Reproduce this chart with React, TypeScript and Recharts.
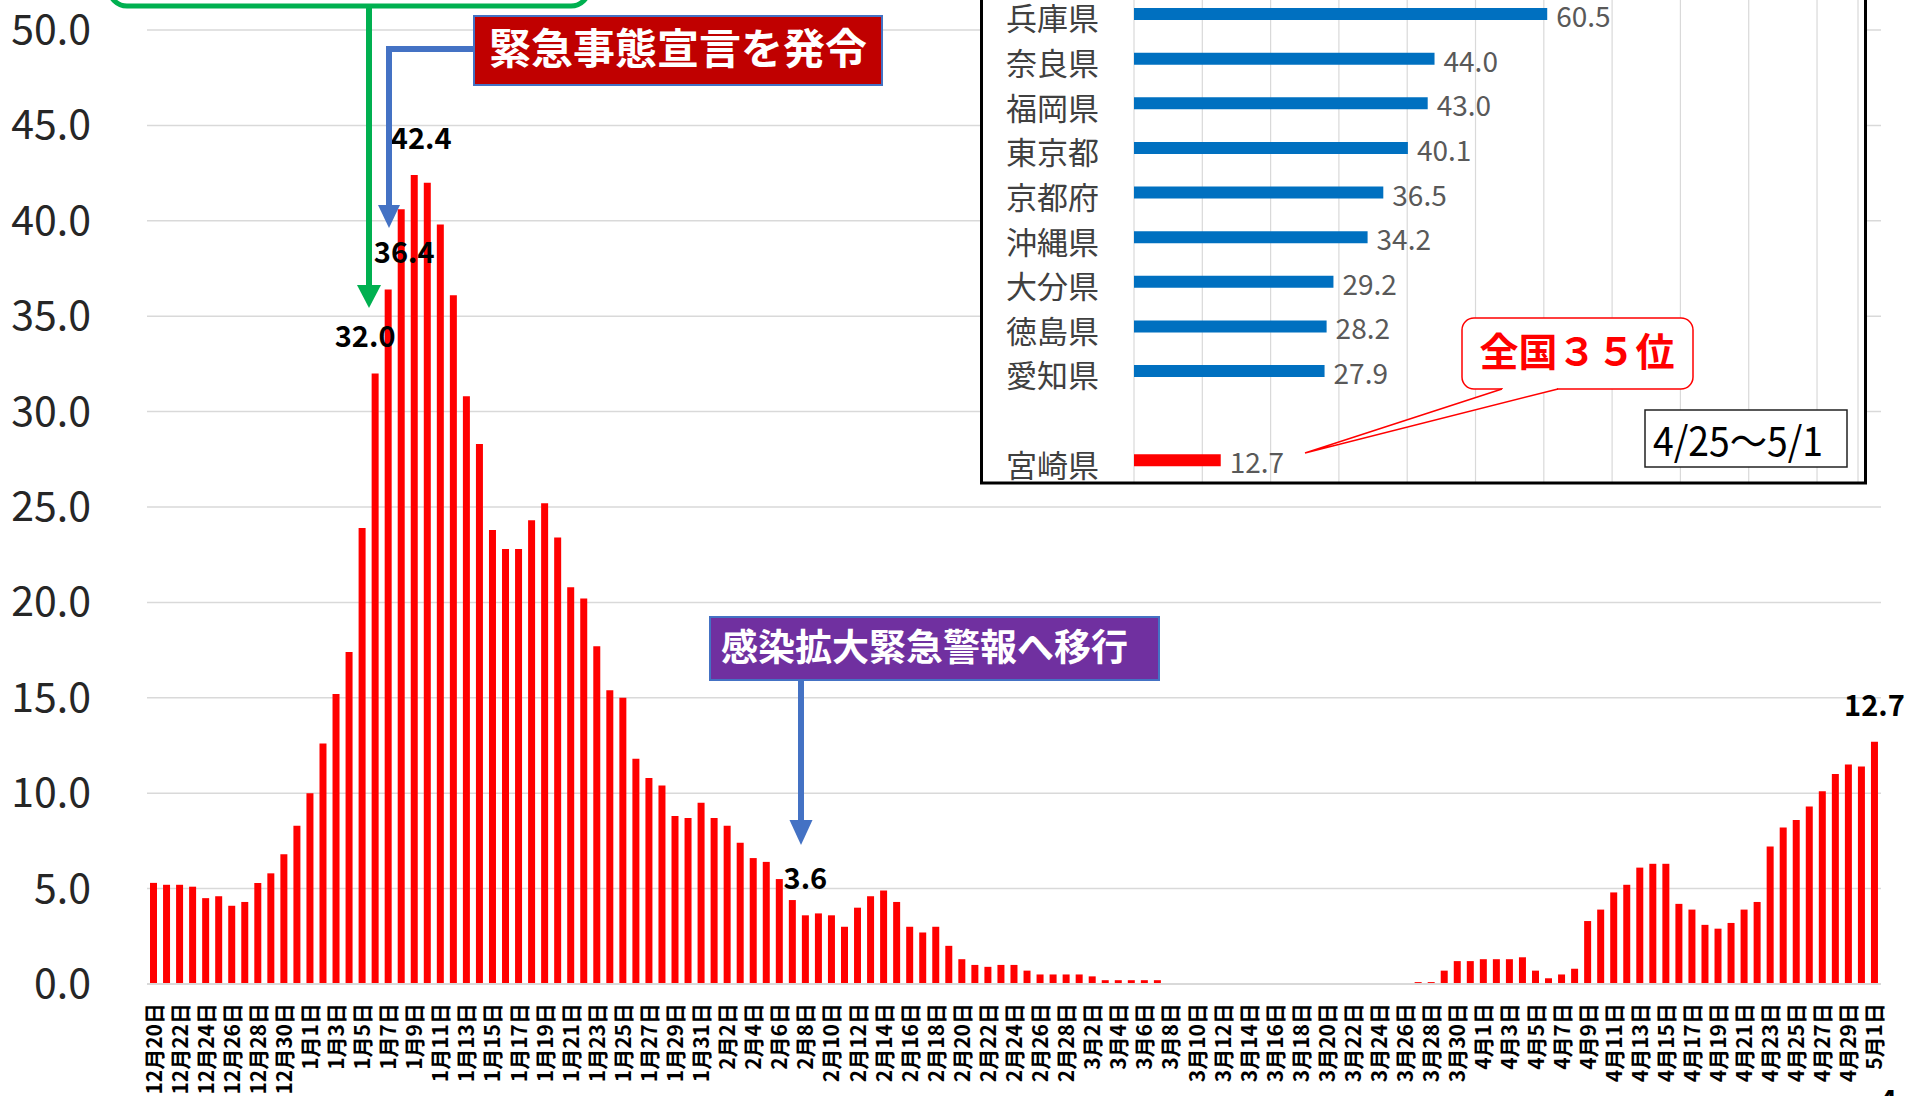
import React from 'react';
import { BarChart, Bar, XAxis, YAxis, CartesianGrid, LabelList, Cell } from 'recharts';

// 日別の人口10万人あたり新規感染者数（直近1週間）
const days = [
  '12月20日', '12月21日', '12月22日', '12月23日', '12月24日', '12月25日', '12月26日', '12月27日', '12月28日', '12月29日', '12月30日', '12月31日',
  '1月1日', '1月2日', '1月3日', '1月4日', '1月5日', '1月6日', '1月7日', '1月8日', '1月9日', '1月10日',
  '1月11日', '1月12日', '1月13日', '1月14日', '1月15日', '1月16日', '1月17日', '1月18日', '1月19日', '1月20日',
  '1月21日', '1月22日', '1月23日', '1月24日', '1月25日', '1月26日', '1月27日', '1月28日', '1月29日', '1月30日', '1月31日',
  '2月1日', '2月2日', '2月3日', '2月4日', '2月5日', '2月6日', '2月7日', '2月8日', '2月9日', '2月10日',
  '2月11日', '2月12日', '2月13日', '2月14日', '2月15日', '2月16日', '2月17日', '2月18日', '2月19日', '2月20日',
  '2月21日', '2月22日', '2月23日', '2月24日', '2月25日', '2月26日', '2月27日', '2月28日',
  '3月1日', '3月2日', '3月3日', '3月4日', '3月5日', '3月6日', '3月7日', '3月8日', '3月9日', '3月10日',
  '3月11日', '3月12日', '3月13日', '3月14日', '3月15日', '3月16日', '3月17日', '3月18日', '3月19日', '3月20日',
  '3月21日', '3月22日', '3月23日', '3月24日', '3月25日', '3月26日', '3月27日', '3月28日', '3月29日', '3月30日', '3月31日',
  '4月1日', '4月2日', '4月3日', '4月4日', '4月5日', '4月6日', '4月7日', '4月8日', '4月9日', '4月10日',
  '4月11日', '4月12日', '4月13日', '4月14日', '4月15日', '4月16日', '4月17日', '4月18日', '4月19日', '4月20日',
  '4月21日', '4月22日', '4月23日', '4月24日', '4月25日', '4月26日', '4月27日', '4月28日', '4月29日', '4月30日',
  '5月1日',
];

const rate = [
  5.3, 5.2, 5.2, 5.1, 4.5, 4.6, 4.1, 4.3, 5.3, 5.8, 6.8, 8.3,
  10.0, 12.6, 15.2, 17.4, 23.9, 32.0, 36.4, 40.6, 42.4, 42.0,
  39.8, 36.1, 30.8, 28.3, 23.8, 22.8, 22.8, 24.3, 25.2, 23.4,
  20.8, 20.2, 17.7, 15.4, 15.0, 11.8, 10.8, 10.4, 8.8, 8.7, 9.5,
  8.7, 8.3, 7.4, 6.6, 6.4, 5.5, 4.4, 3.6, 3.7, 3.6,
  3.0, 4.0, 4.6, 4.9, 4.3, 3.0, 2.7, 3.0, 2.0, 1.3,
  1.0, 0.9, 1.0, 1.0, 0.7, 0.5, 0.5, 0.5,
  0.5, 0.4, 0.2, 0.2, 0.2, 0.2, 0.2, 0, 0, 0,
  0, 0, 0, 0, 0, 0, 0, 0, 0, 0,
  0, 0, 0, 0, 0, 0, 0.1, 0.1, 0.7, 1.2, 1.2,
  1.3, 1.3, 1.3, 1.4, 0.7, 0.3, 0.5, 0.8, 3.3, 3.9,
  4.8, 5.2, 6.1, 6.3, 6.3, 4.2, 3.9, 3.1, 2.9, 3.2,
  3.9, 4.3, 7.2, 8.2, 8.6, 9.3, 10.1, 11.0, 11.5, 11.4,
  12.7,
];

const labeledDays = ['1月6日', '1月7日', '1月9日', '2月8日', '5月1日'];
const yTicks = [0, 5, 10, 15, 20, 25, 30, 35, 40, 45, 50];

// 都道府県別（4/25～5/1）
const prefectures = ['兵庫県', '奈良県', '福岡県', '東京都', '京都府', '沖縄県', '大分県', '徳島県', '愛知県', '', '宮崎県'];
const prefRate = [60.5, 44.0, 43.0, 40.1, 36.5, 34.2, 29.2, 28.2, 27.9, null, 12.7];
const highlightPref = '宮崎県';
const insetMax = 106;
const insetTicks = [0, 10, 20, 30, 40, 50, 60, 70, 80, 90, 100, insetMax];

const data = days.map((day, i) => ({
  day,
  value: rate[i],
  label: labeledDays.includes(day) ? rate[i] : null,
}));
const insetData = prefectures.map((pref, i) => ({ pref, rate: prefRate[i] }));

const JP = '"Noto Sans CJK JP", "Noto Sans", sans-serif';

// ラベルの横方向の微調整（px）
const labelShift: Record<string, number> = { '1月6日': -10, '1月7日': 16, '1月9日': 7 };

const DayTick = ({ x, y, payload }: any) => (
  <text
    transform={`translate(${x + 8},${y + 11}) rotate(-90)`}
    textAnchor="end"
    fontSize={21}
    fontWeight={700}
    fill="#000"
    fontFamily={JP}
  >
    {payload.value}
  </text>
);

const ValueTick = ({ y, payload }: any) => (
  <text x={91} y={y} dy={14} textAnchor="end" fontSize={41} fill="#262626" fontFamily={JP}>
    {Number(payload.value).toFixed(1)}
  </text>
);

const PeakLabel = (props: any) => {
  if (props.value == null) return null;
  const vb = props.viewBox || props;
  const day = typeof props.index === 'number' ? days[props.index] : '';
  const cx = vb.x + vb.width / 2 + (labelShift[day] ?? 0);
  return (
    <text x={cx} y={vb.y - 26} textAnchor="middle" fontSize={29} fontWeight={700} fill="#000" fontFamily={JP}>
      {Number(props.value).toFixed(1)}
    </text>
  );
};

const PrefTick = ({ y, payload }: any) => (
  <text x={117} y={y} dy={16} textAnchor="end" fontSize={31} fill="#404040" fontFamily={JP}>
    {payload.value}
  </text>
);

const EmptyTick = () => <g />;

const RateLabel = (props: any) => {
  if (props.value == null) return null;
  const vb = props.viewBox || props;
  return (
    <text x={vb.x + vb.width + 9} y={vb.y + vb.height / 2 + 13} fontSize={28} fill="#595959" fontFamily={JP}>
      {Number(props.value).toFixed(1)}
    </text>
  );
};

// 目盛り線の位置は軸のスケールから
const insetGridX = ({ xAxis, offset }: any) => {
  const s = xAxis && xAxis.scale;
  if (typeof s === 'function') return insetTicks.map((t) => s(t));
  const left = offset?.left ?? 152;
  const width = offset?.width ?? 724;
  return insetTicks.map((t) => left + (t / insetMax) * width);
};

export default function App() {
  return (
    <div
      style={{
        position: 'fixed', left: 0, top: 0, width: 1909, height: 1096,
        overflow: 'hidden', background: '#fff', fontFamily: JP,
      }}
    >
      <div style={{ position: 'absolute', left: 0, top: 0 }}>
        <BarChart width={1909} height={1096} data={data} margin={{ top: 30, right: 28, bottom: 0, left: 0 }} barSize={7}>
          <CartesianGrid vertical={false} stroke="#D9D9D9" strokeWidth={1.5} />
          <XAxis
            dataKey="day"
            interval={1}
            tick={<DayTick />}
            tickLine={false}
            axisLine={{ stroke: '#D9D9D9', strokeWidth: 2 }}
            height={112}
          />
          <YAxis
            domain={[0, 50]}
            ticks={yTicks}
            tick={<ValueTick />}
            tickLine={false}
            axisLine={false}
            width={147}
          />
          <Bar dataKey="value" fill="#FF0000" isAnimationActive={false}>
            <LabelList dataKey="label" content={PeakLabel} />
          </Bar>
        </BarChart>
      </div>

      {/* 都道府県別ランキング */}
      <div style={{ position: 'absolute', left: 981, top: -20, width: 885, height: 503, background: '#fff' }} />
      <div style={{ position: 'absolute', left: 982, top: -52 }}>
        <BarChart
          layout="vertical"
          width={884}
          height={536}
          data={insetData}
          margin={{ top: 44, right: 8, bottom: 0, left: 0 }}
          barSize={12}
        >
          <CartesianGrid horizontal={false} stroke="#D9D9D9" strokeWidth={1.2} verticalCoordinatesGenerator={insetGridX} />
          <XAxis
            type="number"
            domain={[0, insetMax]}
            ticks={insetTicks}
            interval={0}
            tick={<EmptyTick />}
            tickLine={false}
            axisLine={false}
            height={1}
          />
          <YAxis type="category" dataKey="pref" width={152} interval={0} tick={<PrefTick />} tickLine={false} axisLine={false} />
          <Bar dataKey="rate" isAnimationActive={false}>
            {insetData.map((d) => (
              <Cell key={d.pref || 'blank'} fill={d.pref === highlightPref ? '#FF0000' : '#0070C0'} />
            ))}
            <LabelList dataKey="rate" content={RateLabel} />
          </Bar>
        </BarChart>
      </div>

      {/* 注釈 */}
      <svg width={1909} height={1096} style={{ position: 'absolute', left: 0, top: 0, pointerEvents: 'none' }}>
        <rect x={981.5} y={-20} width={884} height={503} fill="none" stroke="#000" strokeWidth={3} />

        <rect x={109} y={-60} width={480} height={66} rx={18} fill="#fff" stroke="#00B050" strokeWidth={5} />
        <line x1={369} y1={8} x2={369} y2={288} stroke="#00B050" strokeWidth={6} />
        <polygon points="357,285 381,285 369,308" fill="#00B050" />

        <polyline points="474,49 389,49 389,208" fill="none" stroke="#4472C4" strokeWidth={6} />
        <polygon points="378,205 400,205 389,228" fill="#4472C4" />
        <rect x={474} y={16} width={408} height={69} fill="#C00000" stroke="#4472C4" strokeWidth={2} />
        <text x={678} y={64} textAnchor="middle" fontSize={42} fontWeight={700} fill="#fff" fontFamily={JP}>
          緊急事態宣言を発令
        </text>

        <line x1={801} y1={680} x2={801} y2={822} stroke="#4472C4" strokeWidth={6} />
        <polygon points="789.5,820 812.5,820 801,845" fill="#4472C4" />
        <rect x={710} y={617} width={449} height={63} fill="#7030A0" stroke="#4472C4" strokeWidth={2} />
        <text x={721} y={661} fontSize={37} fontWeight={700} fill="#fff" fontFamily={JP}>
          感染拡大緊急警報へ移行
        </text>

        <rect x={1462} y={318} width={231} height={71} rx={12} fill="#fff" stroke="#FF0000" strokeWidth={1.5} />
        <polygon points="1502,389 1305,453 1558,389" fill="#fff" />
        <line x1={1503} y1={389} x2={1557} y2={389} stroke="#fff" strokeWidth={3} />
        <polyline points="1502,389 1305,453 1558,389" fill="none" stroke="#FF0000" strokeWidth={1.5} />
        <text x={1577} y={366} textAnchor="middle" fontSize={39} fontWeight={700} fill="#FF0000" fontFamily={JP}>
          全国３５位
        </text>

        <rect x={1645} y={410} width={202} height={57} fill="#fff" stroke="#222" strokeWidth={1.5} />
        <text x={1653} y={456} fontSize={40} fill="#000" fontFamily={JP} textLength={170} lengthAdjust="spacingAndGlyphs">
          4/25～5/1
        </text>

        <text x={1888} y={1112} textAnchor="middle" fontSize={30} fontWeight={700} fill="#000" fontFamily={JP}>
          4
        </text>
      </svg>
    </div>
  );
}
